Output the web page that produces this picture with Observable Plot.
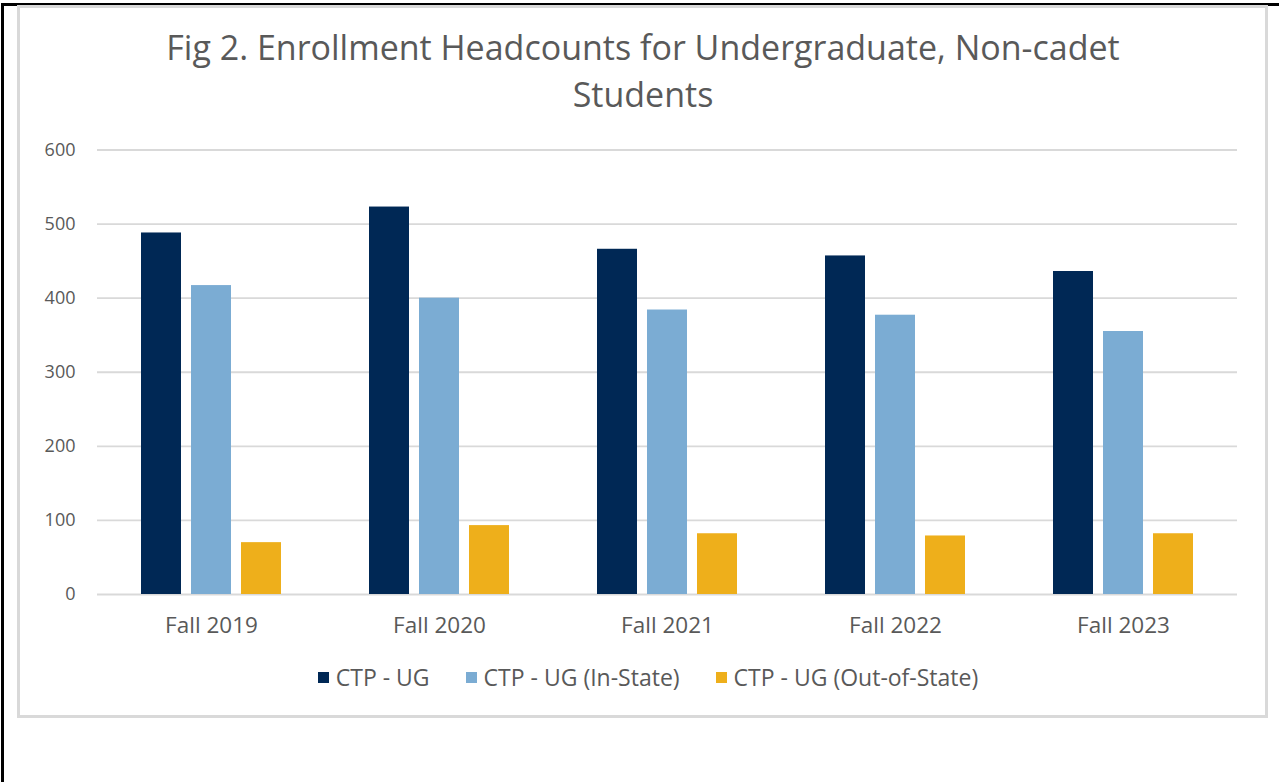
<!DOCTYPE html>
<html>
<head>
<meta charset="utf-8">
<script src="https://cdn.jsdelivr.net/npm/d3@7"></script>
<script src="https://cdn.jsdelivr.net/npm/@observablehq/plot@0.6"></script>
<style>
  html, body { margin: 0; padding: 0; background: #fff; }
  #page { position: relative; width: 1279px; height: 782px; overflow: hidden; font-family: "Open Sans", Roboto, sans-serif; color: #595959; }
  #outer { position: absolute; left: 1px; top: 3px; width: 1300px; height: 800px; border-left: 3px solid #000; border-top: 3px solid #000; box-sizing: border-box; }
  #frame { position: absolute; left: 17px; top: 5px; width: 1251px; height: 713px; border: 3px solid #d9d9d9; box-sizing: border-box; }
  #chart { position: absolute; left: 0; top: 0; }
  #title { position: absolute; left: 0; width: 1286px; top: 24px; text-align: center; font-size: 34px; line-height: 47px; color: #595959; }
  #legend { position: absolute; left: 0; width: 1296px; top: 666px; height: 22px; display: flex; justify-content: center; align-items: center; font-size: 23px; color: #595959; }
  .item { display: flex; align-items: center; margin: 0 18px; }
  .sw { width: 11px; height: 11px; margin-right: 7px; }
</style>
</head>
<body>
<div id="page">
  <div id="outer"></div>
  <div id="frame"></div>
  <div id="chart"></div>
  <div id="title">Fig 2. Enrollment Headcounts for Undergraduate, Non-cadet<br>Students</div>
  <div id="legend"></div>
</div>
<script>
const years = ["Fall 2019", "Fall 2020", "Fall 2021", "Fall 2022", "Fall 2023"];
const series = ["CTP - UG", "CTP - UG (In-State)", "CTP - UG (Out-of-State)"];
const ctpUG = [488, 523, 466, 457, 436];
const inState = [417, 400, 384, 377, 355];
const outOfState = [70, 93, 82, 79, 82];
const yTicks = [0, 100, 200, 300, 400, 500, 600];
const colors = ["#002855", "#7BACD3", "#EEAF1B"];

const seriesValues = [ctpUG, inState, outOfState];
const data = years.flatMap((yr, i) => series.map((s, j) => ({ year: yr, series: s, value: seriesValues[j][i] })));

const chart = Plot.plot({
  width: 1279,
  height: 660,
  marginLeft: 96,
  marginRight: 41,
  marginTop: 149.5,
  marginBottom: 66,
  style: { fontFamily: "'Open Sans', Roboto, sans-serif", color: "#595959", background: "transparent", overflow: "visible" },
  fx: { domain: years, paddingInner: 0, paddingOuter: 0, label: null },
  x: { domain: series, paddingInner: 0.208, paddingOuter: 0.87, axis: null },
  y: { domain: [0, 600], label: null },
  color: { domain: series, range: colors },
  marks: [
    Plot.ruleY(yTicks, { stroke: "#d9d9d9", strokeWidth: 1.8 }),
    Plot.barY(data, { fx: "year", x: "series", y: "value", fill: "series" }),
    Plot.axisY({ ticks: yTicks, tickSize: 0, tickPadding: 22, fontSize: 18, label: null }),
    Plot.axisFx({ anchor: "bottom", tickSize: 0, tickPadding: 22.5, fontSize: 22.5, label: null })
  ]
});
document.getElementById("chart").appendChild(chart);

const legend = document.getElementById("legend");
series.forEach((s, i) => {
  const it = document.createElement("div");
  it.className = "item";
  const sw = document.createElement("div");
  sw.className = "sw";
  sw.style.background = colors[i];
  const t = document.createElement("span");
  t.textContent = s;
  it.appendChild(sw);
  it.appendChild(t);
  legend.appendChild(it);
});
</script>
</body>
</html>
